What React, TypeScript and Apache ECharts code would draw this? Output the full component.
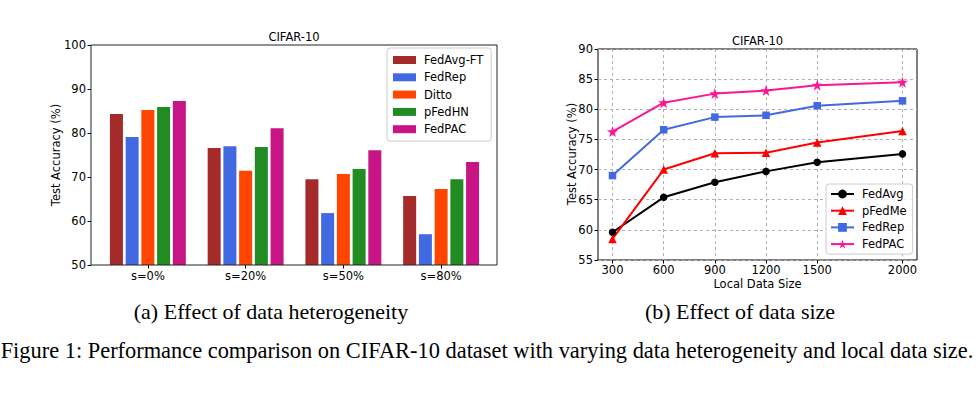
import React, { useEffect, useRef } from "react";
import * as echarts from "echarts";

// ---- Data: (a) Effect of data heterogeneity ----
const heteroCategories = ["s=0%", "s=20%", "s=50%", "s=80%"];
const fedAvgFT = [84.3, 76.6, 69.5, 65.7];
const fedRepBar = [79.1, 77.0, 61.8, 57.0];
const ditto = [85.2, 71.4, 70.7, 67.3];
const pFedHN = [85.9, 76.8, 71.8, 69.5];
const fedPACBar = [87.3, 81.1, 76.1, 73.4];
const barYTicks = { min: 50, max: 100, interval: 10 };

// ---- Data: (b) Effect of data size ----
const dataSizes = [300, 600, 900, 1200, 1500, 2000];
const fedAvgLine = [59.6, 65.4, 67.9, 69.7, 71.2, 72.6];
const pFedMe = [58.5, 70.0, 72.7, 72.8, 74.5, 76.4];
const fedRepLine = [69.0, 76.6, 78.7, 79.0, 80.6, 81.4];
const fedPACLine = [76.3, 81.1, 82.6, 83.1, 84.0, 84.5];
const lineYTicks = { min: 55, max: 90, interval: 5 };
const lineXRange = { min: 215, max: 2085 };

const SANS = "DejaVu Sans";
const SERIF = "Liberation Serif";
const FS = 11.5;

const STAR =
  "path://M0,-1L0.2245,-0.309L0.951,-0.309L0.3633,0.118L0.5878,0.809L0,0.382L-0.5878,0.809L-0.3633,0.118L-0.951,-0.309L-0.2245,-0.309Z";

export default function App() {
  const ref = useRef<HTMLDivElement>(null);
  useEffect(() => {
    if (!ref.current) return;
    const chart = echarts.init(ref.current, null, { renderer: "svg" });
    const pair = (xs: number[], ys: number[]) => xs.map((x, i) => [x, ys[i]]);
    const barSeries = [
      { name: "FedAvg-FT", data: fedAvgFT, color: "#a52a2a" },
      { name: "FedRep", data: fedRepBar, color: "#4169e1" },
      { name: "Ditto", data: ditto, color: "#ff4500" },
      { name: "pFedHN", data: pFedHN, color: "#228b22" },
      { name: "FedPAC", data: fedPACBar, color: "#c71585" },
    ].map((s) => ({
      type: "bar",
      name: s.name,
      data: s.data,
      xAxisIndex: 0,
      yAxisIndex: 0,
      barWidth: 13,
      barGap: "21%",
      itemStyle: { color: s.color },
    }));
    const lineDefs = [
      { name: "FedAvg ", data: fedAvgLine, color: "#000000", symbol: "circle", size: 7.5 },
      { name: "pFedMe ", data: pFedMe, color: "#ff0000", symbol: "triangle", size: 8.5 },
      { name: "FedRep ", data: fedRepLine, color: "#4169e1", symbol: "rect", size: 7.5 },
      { name: "FedPAC ", data: fedPACLine, color: "#ff1493", symbol: STAR, size: 11 },
    ];
    const lineSeries = lineDefs.map((s) => ({
      type: "line",
      name: s.name,
      data: pair(dataSizes, s.data),
      xAxisIndex: 1,
      yAxisIndex: 1,
      symbol: s.symbol,
      symbolSize: s.size,
      showSymbol: true,
      lineStyle: { color: s.color, width: 2 },
      itemStyle: { color: s.color },
      z: 5,
    }));
    const labelStyle = { fontFamily: SANS, fontSize: FS, color: "#000" };
    const dashed = { show: true, lineStyle: { color: "#b0b0b0", type: [3, 3], width: 1 } };
    chart.setOption({
      animation: false,
      backgroundColor: "#fff",
      textStyle: { fontFamily: SANS },
      grid: [
        { left: 99, width: 391, top: 45, height: 220, containLabel: false },
        {
          left: 598, width: 319, top: 49, height: 211, containLabel: false,
          show: true, borderColor: "#000", borderWidth: 1, backgroundColor: "transparent",
        },
      ],
      xAxis: [
        {
          type: "category",
          gridIndex: 0,
          data: heteroCategories,
          axisLine: { show: false },
          axisTick: { show: true, alignWithLabel: true, length: 3.5, lineStyle: { color: "#000" } },
          axisLabel: { ...labelStyle, margin: 5 },
        },
        {
          type: "value",
          gridIndex: 1,
          min: lineXRange.min,
          max: lineXRange.max,
          axisLine: { show: false },
          axisTick: { show: true, length: 3.5, customValues: dataSizes, lineStyle: { color: "#000" } },
          axisLabel: { ...labelStyle, margin: 4, customValues: dataSizes, formatter: (v: number) => String(v) },
          splitLine: dashed,
        },
      ],
      yAxis: [
        {
          type: "value",
          gridIndex: 0,
          min: barYTicks.min,
          max: barYTicks.max,
          interval: barYTicks.interval,
          offset: 8,
          axisLine: { show: false },
          axisTick: { show: true, length: 3.5, lineStyle: { color: "#000" } },
          axisLabel: { ...labelStyle, margin: 5 },
          splitLine: { show: false },
        },
        {
          type: "value",
          gridIndex: 1,
          min: lineYTicks.min,
          max: lineYTicks.max,
          interval: lineYTicks.interval,
          axisLine: { show: false },
          axisTick: { show: true, length: 3.5, lineStyle: { color: "#000" } },
          axisLabel: { ...labelStyle, margin: 5 },
          splitLine: dashed,
        },
      ],
      legend: [
        {
          data: barSeries.map((s) => s.name),
          orient: "vertical",
          left: 387,
          top: 48,
          icon: "rect",
          itemWidth: 23,
          itemHeight: 8,
          itemGap: 5.3,
          padding: [6, 8, 6, 6],
          borderColor: "#cccccc",
          borderWidth: 1,
          borderRadius: 3,
          backgroundColor: "rgba(255,255,255,0.8)",
          textStyle: { fontFamily: SANS, fontSize: FS, color: "#000", lineHeight: 12, padding: [0, 0, 0, 3] },
          selectedMode: false,
        },
        {
          data: lineDefs.map((s) => s.name),
          orient: "vertical",
          left: 826,
          top: 184,
          itemWidth: 23,
          itemHeight: 11,
          itemGap: 4.7,
          padding: [4, 6, 4, 4],
          borderColor: "#cccccc",
          borderWidth: 1,
          borderRadius: 3,
          backgroundColor: "rgba(255,255,255,0.8)",
          formatter: (n: string) => n.trim(),
          textStyle: { fontFamily: SANS, fontSize: FS, color: "#000", lineHeight: 12, padding: [0, 0, 0, 3] },
          selectedMode: false,
        },
      ],
      series: [...barSeries, ...lineSeries],
      graphic: [
        {
          type: "rect",
          silent: true,
          z: 20,
          shape: { x: 91, y: 45, width: 406, height: 220 },
          style: { fill: "none", stroke: "#222", lineWidth: 1 },
        },
        { type: "text", x: 294, y: 37, style: { text: "CIFAR-10", font: `${FS}px ${SANS}`, fill: "#000", textAlign: "center", textVerticalAlign: "middle" } },
        { type: "text", x: 757.5, y: 41, style: { text: "CIFAR-10", font: `${FS}px ${SANS}`, fill: "#000", textAlign: "center", textVerticalAlign: "middle" } },
        { type: "text", x: 56, y: 155, rotation: Math.PI / 2, style: { text: "Test Accuracy (%)", font: `${FS}px ${SANS}`, fill: "#000", textAlign: "center", textVerticalAlign: "middle" } },
        { type: "text", x: 572, y: 154, rotation: Math.PI / 2, style: { text: "Test Accuracy (%)", font: `${FS}px ${SANS}`, fill: "#000", textAlign: "center", textVerticalAlign: "middle" } },
        { type: "text", x: 757.5, y: 284, style: { text: "Local Data Size", font: `${FS}px ${SANS}`, fill: "#000", textAlign: "center", textVerticalAlign: "middle" } },
        { type: "text", x: 271, y: 311, style: { text: "(a) Effect of data heterogeneity", font: `22px ${SERIF}`, fill: "#000", textAlign: "center", textVerticalAlign: "middle" } },
        { type: "text", x: 740, y: 311, style: { text: "(b) Effect of data size", font: `22px ${SERIF}`, fill: "#000", textAlign: "center", textVerticalAlign: "middle" } },
        { type: "text", x: 487, y: 350, style: { text: "Figure 1: Performance comparison on CIFAR-10 dataset with varying data heterogeneity and local data size.", font: `22.4px ${SERIF}`, fill: "#000", textAlign: "center", textVerticalAlign: "middle" } },
      ],
    });
    return () => chart.dispose();
  }, []);
  return (
    <div
      ref={ref}
      style={{ position: "absolute", left: 0, top: 0, width: 980, height: 393, background: "#fff" }}
    />
  );
}
